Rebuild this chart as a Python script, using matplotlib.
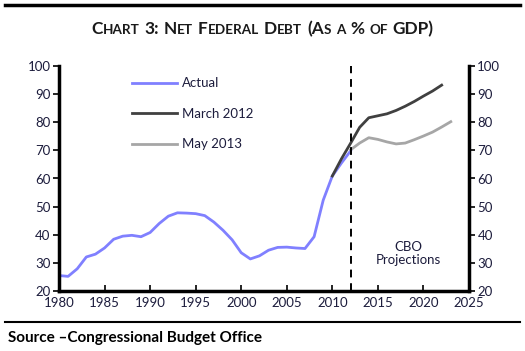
import matplotlib
matplotlib.use("Agg")
import matplotlib.pyplot as plt
from matplotlib.lines import Line2D

plt.rcParams['font.family'] = ['Lato', 'DejaVu Sans']

# ---- data ----
actual_years = list(range(1980, 2013))
actual_vals = [25.5, 25.2, 27.9, 32.1, 33.1, 35.3, 38.4, 39.5, 39.8, 39.3,
               40.8, 44.0, 46.6, 47.8, 47.7, 47.5, 46.8, 44.5, 41.6, 38.2,
               33.6, 31.4, 32.5, 34.5, 35.5, 35.6, 35.3, 35.1, 39.3, 52.3,
               60.9, 65.5, 69.8]
mar2012_years = list(range(2010, 2023))
mar2012_vals = [60.9, 67.0, 72.5, 78.2, 81.6, 82.3, 83.0, 84.2, 85.7, 87.4,
                89.3, 91.1, 93.2]
may2013_years = list(range(2012, 2024))
may2013_vals = [70.2, 72.6, 74.5, 73.9, 73.0, 72.3, 72.6, 73.8, 75.1, 76.5,
                78.3, 80.2]
x_ticks = [1980, 1985, 1990, 1995, 2000, 2005, 2010, 2015, 2020, 2025]
y_ticks = [20, 30, 40, 50, 60, 70, 80, 90, 100]
series_labels = ["Actual", "March 2012", "May 2013"]
title_text = "Chart 3: Net Federal Debt (As a % of GDP)"
source_text = "Source \u2013Congressional Budget Office"
annot_text = "CBO\nProjections"

W, H = 525, 351
fig = plt.figure(figsize=(W / 100, H / 100), dpi=100)
ax = fig.add_axes([59 / W, 1 - 291 / H, (469 - 59) / W, (291 - 66) / H])

c_act = "#8080ff"
c_mar = "#404040"
c_may = "#a6a6a6"
txtc = "#1c1c3c"

ax.plot(actual_years, actual_vals, color=c_act, lw=2.0, label=series_labels[0])
ax.plot(mar2012_years, mar2012_vals, color=c_mar, lw=2.0, label=series_labels[1])
ax.plot(may2013_years, may2013_vals, color=c_may, lw=2.0, label=series_labels[2])
ax.axvline(2012, color="black", lw=1.4, ls=(0, (4, 3)))

ax.set_xlim(1980, 2025)
ax.set_ylim(20, 100)
ax.set_xticks(x_ticks)
ax.set_yticks(y_ticks)
for s in ["left", "right", "bottom"]:
    ax.spines[s].set_linewidth(2.5)
ax.spines["top"].set_visible(False)
ax.tick_params(axis="y", direction="out", length=4, width=1.2, labelsize=9.5,
               labelcolor=txtc, left=True, right=True, labelleft=True,
               labelright=True, pad=2)
ax.tick_params(axis="x", direction="in", length=4, width=1.2, labelsize=9.5,
               labelcolor=txtc, pad=4)

leg = ax.legend(loc="upper left", bbox_to_anchor=(0.155, 0.99), frameon=False,
                fontsize=9.5, handlelength=3.4, handletextpad=0.4,
                labelspacing=1.4, borderaxespad=0.3)
for t in leg.get_texts():
    t.set_color(txtc)

ax.text(2018.4, 33.2, annot_text, ha="center", va="center", fontsize=9.5,
        color=txtc, linespacing=1.1)

# decorative rules
fig.add_artist(Line2D([5 / W, 520 / W], [1 - 5 / H, 1 - 5 / H],
                      transform=fig.transFigure, color="black", lw=2.5))
fig.add_artist(Line2D([5 / W, 520 / W], [1 - 322 / H, 1 - 322 / H],
                      transform=fig.transFigure, color="black", lw=1.5))

fig.text(8 / W, 1 - 338 / H, source_text, ha="left", va="center",
         fontsize=11, fontweight="bold", color="black")

# small-caps title
big, small = 12.4, 9.7
runs = []
for ch in title_text:
    if ch == " ":
        runs.append((" ", big))
        continue
    if ch.islower():
        runs.append((ch.upper(), small))
    else:
        runs.append((ch, big))
merged = []
for ch, sz in runs:
    if merged and merged[-1][1] == sz and ch != " " and merged[-1][0][-1] != " ":
        merged[-1] = (merged[-1][0] + ch, sz)
    else:
        merged.append((ch, sz))

fig.canvas.draw()
renderer = fig.canvas.get_renderer()
ybase = 1 - 34 / H
items = []
total = 0.0
for s, sz in merged:
    if s == " ":
        w = sz * 0.28 * 100 / 72
        items.append((None, w))
    else:
        t = fig.text(0, ybase, s, fontsize=sz, fontweight="bold",
                     color="#1a1a1a", ha="left", va="baseline")
        w = t.get_window_extent(renderer).width
        items.append((t, w))
    total += w
x = W / 2 - total / 2
for t, w in items:
    if t is not None:
        t.set_x(x / W)
    x += w

fig.savefig("out.png", dpi=100)
